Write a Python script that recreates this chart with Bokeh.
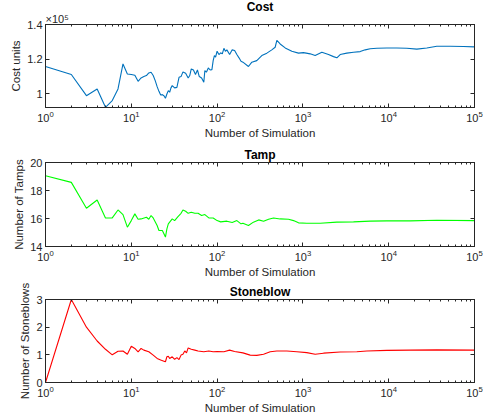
from bokeh.plotting import figure
from bokeh.models import (FixedTicker, LogTickFormatter, LinearAxis, LogAxis, Title,
                          CustomJSTickFormatter, Range1d, ColumnDataSource)
from bokeh.layouts import column
from bokeh.embed import file_html
from bokeh.resources import INLINE

# ---------------- data ----------------
cost_sim = [1, 2, 3, 4, 5, 6, 7, 8, 9, 10, 11, 12, 13, 14, 15, 16, 17, 18, 19, 20,
            21, 22, 23, 24, 25, 26, 27, 28, 29, 30, 32, 34, 36, 38, 40, 43, 46, 48, 50,
            53, 56, 59, 62, 66, 70, 72, 75, 79, 83, 87, 90, 93, 96, 100, 105, 110, 115,
            120, 125, 130, 140, 150, 160, 170, 180, 190, 200, 232, 254, 290, 332, 380,
            434, 475, 497, 543, 622, 743, 889, 1016, 1216, 1390, 1663, 1988, 2274, 2488,
            2719, 3251, 3890, 4653, 5323, 6087, 7279, 9510, 12430, 16250, 21270, 27800,
            36370, 52100, 74460, 100000]
cost_units = [115800, 111200, 99000, 102900, 92300, 96200, 102900, 117300, 111500, 111200,
              110800, 107300, 109200, 110000, 110600, 112100, 112500, 110600, 107700, 104200,
              101500, 99400, 99600, 99000, 97500, 100000, 101900, 101000, 103500, 104800,
              103500, 103800, 109600, 110000, 112700, 111900, 109200, 110600, 114400,
              113800, 111200, 113800, 110000, 109200, 106700, 113500, 112500, 115000,
              113800, 114000, 119200, 122100, 121200, 124600, 122700, 123700, 123100,
              126300, 124600, 125400, 122700, 125400, 125000, 122700, 120800, 118800,
              118300, 115800, 118300, 119200, 122100, 123500, 125400, 126900, 130800,
              128800, 126500, 124600, 123500, 123800, 123100, 122100, 124000, 122700,
              121500, 120800, 122700, 123500, 124000, 124400, 125400, 126000, 126300,
              126500, 126500, 126300, 125800, 126500, 127500, 127500, 127300, 127100]

tamp_sim = [1, 2, 3, 4, 5, 6, 7, 8, 9, 10, 11, 12, 13, 15, 16, 17, 18, 20, 21, 23, 24, 25,
            26, 27, 30, 32, 35, 38, 40, 43, 46, 50, 55, 60, 66, 72, 80, 90, 100, 110, 130,
            150, 170, 190, 200, 232, 265, 305, 348, 398, 455, 543, 680, 777, 889, 1110,
            1590, 2488, 3890, 6087, 9510, 17800, 36370, 100000]
tamps = [19.05, 18.58, 16.73, 17.32, 16.04, 16.04, 16.61, 16.28, 15.38, 15.85, 16.33,
         15.95, 15.97, 16.09, 15.95, 16.21, 16.04, 15.50, 15.14, 15.14, 14.91, 14.67,
         15.26, 15.62, 15.97, 15.85, 16.14, 16.37, 16.61, 16.52, 16.37, 16.45, 16.37,
         16.37, 16.21, 16.28, 16.04, 16.04, 15.85, 15.76, 15.81, 15.71, 15.85, 15.62,
         15.66, 15.50, 15.74, 15.90, 15.81, 15.95, 16.04, 15.97, 15.95, 15.85, 15.69,
         15.66, 15.66, 15.74, 15.76, 15.81, 15.83, 15.83, 15.88, 15.85]

stone_sim = [1, 2, 3, 4, 5, 6, 7, 8, 9, 10, 11, 12, 13, 14, 16, 18, 20, 22, 24, 25, 26,
             27, 28, 30, 32, 34, 36, 38, 40, 42, 44, 46, 50, 55, 60, 70, 80, 90, 100, 120,
             140, 160, 200, 243, 290, 348, 416, 497, 650, 850, 1110, 1390, 1740, 2719,
             4250, 5570, 9510, 17800, 36370, 100000]
stoneblows = [0.0, 3.0, 2.0, 1.5, 1.2, 1.0, 1.13, 1.14, 1.02, 1.31, 1.23, 1.11, 1.23,
              1.17, 1.11, 0.99, 0.87, 0.81, 0.77, 0.75, 0.93, 0.95, 0.87, 0.93, 0.84, 0.90,
              0.83, 0.99, 1.02, 1.14, 1.07, 1.25, 1.20, 1.17, 1.14, 1.11, 1.14, 1.11, 1.12,
              1.11, 1.17, 1.12, 1.07, 0.99, 0.98, 1.02, 1.11, 1.14, 1.14, 1.11, 1.08, 1.02,
              1.06, 1.10, 1.11, 1.14, 1.16, 1.17, 1.18, 1.17]

x_major = [1, 10, 100, 1000, 10000, 100000]
x_minor = [m * d for d in [1, 10, 100, 1000, 10000] for m in range(2, 10)]
cost_ticks = [100000, 120000, 140000]
tamp_ticks = [14, 16, 18, 20]
stone_ticks = [0, 1, 2, 3]

# ---------------- styling ----------------
FONT = "Liberation Sans"
AX = "#262626"
W = 484


def make_panel(xs, ys, color, title, ylabel, yticks, yrange, height, top, bottom,
               yfmt=None, title_standoff=2):
    p = figure(width=W, height=height, x_axis_type="log", output_backend="svg",
               toolbar_location=None, x_range=Range1d(1, 100000), y_range=Range1d(*yrange),
               min_border_left=45, min_border_right=10, min_border_top=top,
               min_border_bottom=bottom, title=title)
    p.title.align = "center"
    p.title.text_font = FONT
    p.title.text_font_size = "12px"
    p.title.text_font_style = "bold"
    p.title.text_color = "black"
    p.title.standoff = title_standoff
    p.line(x="x", y="y", source=ColumnDataSource(dict(x=xs, y=ys)), line_color=color,
           line_width=1.1)
    p.grid.visible = False
    p.outline_line_color = AX
    p.background_fill_color = "white"
    p.border_fill_color = "white"

    xt = FixedTicker(ticks=x_major, minor_ticks=x_minor)
    yt = FixedTicker(ticks=yticks, minor_ticks=[])
    xax = p.xaxis[0]
    yax = p.yaxis[0]
    xax.ticker = xt
    xax.formatter = LogTickFormatter()
    yax.ticker = yt
    if yfmt is not None:
        yax.formatter = yfmt
    xax.axis_label = "Number of Simulation"
    yax.axis_label = ylabel

    blank = CustomJSTickFormatter(code="return '';")
    top_ax = LogAxis(ticker=xt, formatter=blank)
    right_ax = LinearAxis(ticker=yt, formatter=blank)
    p.add_layout(top_ax, "above")
    p.add_layout(right_ax, "right")

    for ax in [xax, yax, top_ax, right_ax]:
        ax.major_tick_in = 4
        ax.major_tick_out = 0
        ax.minor_tick_in = 2
        ax.minor_tick_out = 0
        ax.axis_line_color = AX
        ax.major_tick_line_color = AX
        ax.minor_tick_line_color = AX
        ax.major_label_text_color = AX
        ax.major_label_text_font = FONT
        ax.major_label_text_font_size = "11px"
        ax.axis_label_text_font = FONT
        ax.axis_label_text_font_size = "11.5px"
        ax.axis_label_text_font_style = "normal"
        ax.axis_label_text_color = AX
        ax.major_label_standoff = 3
        ax.axis_label_standoff = 2
    for ax in [top_ax, right_ax]:
        ax.major_label_text_font_size = "1px"
        ax.major_label_standoff = 0
    return p


cost_fmt = CustomJSTickFormatter(code="return String(Math.round(tick / 1e4) / 10);")
p1 = make_panel(cost_sim, cost_units, "#0072BD", "Cost", "Cost units", cost_ticks,
                (92200, 140000), 142, 24, 35, cost_fmt, title_standoff=-6)
p1.add_layout(Title(text="×10⁵", align="left", text_font=FONT, text_font_size="11px",
                    text_font_style="normal", text_color=AX, standoff=0), "above")
p2 = make_panel(tamp_sim, tamps, "#00FF00", "Tamp", "Number of Tamps", tamp_ticks,
                (14, 20), 139, 20, 35)
p3 = make_panel(stone_sim, stoneblows, "#FF0000", "Stoneblow", "Number of Stoneblows",
                stone_ticks, (0, 3), 136, 18, 35)

layout = column(p1, p2, p3, spacing=0)
open("out.html", "w").write(file_html(layout, INLINE))
